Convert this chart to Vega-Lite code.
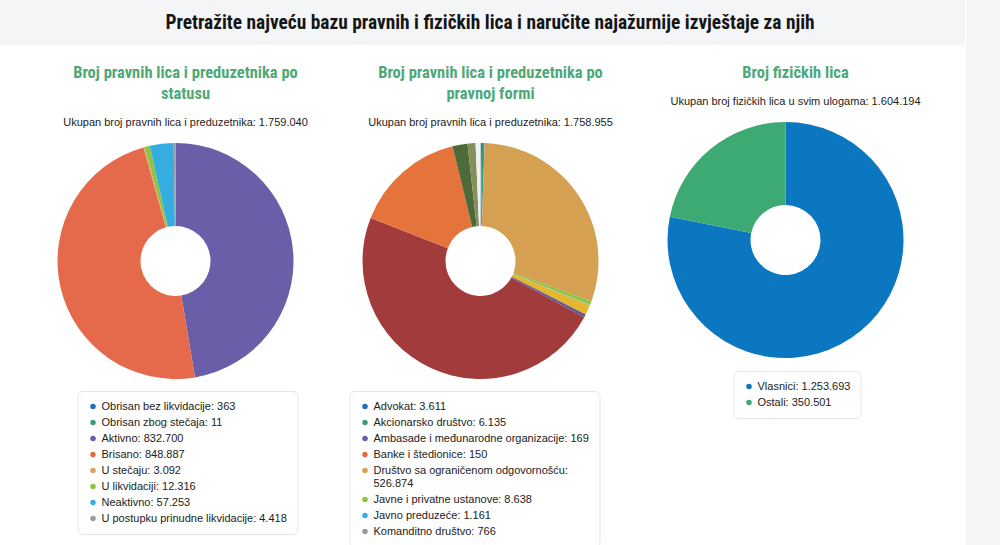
{
  "$schema": "https://vega.github.io/schema/vega-lite/v6.json",
  "background": "white",
  "padding": 0,
  "spacing": 0,
  "align": "none",
  "config": {
    "locale": {"number": {"decimal": ",", "thousands": ".", "grouping": [3], "currency": ["", " €"]}},
    "view": {"stroke": null},
    "font": "Liberation Sans",
    "title": {
      "font": "Roboto Condensed, Liberation Sans Narrow, DejaVu Sans Condensed, Roboto",
      "fontSize": 16.5,
      "fontWeight": "bold",
      "color": "#4fa878",
      "lineHeight": 21,
      "anchor": "middle",
      "frame": "group",
      "dx": 10,
      "offset": 15,
      "subtitleFont": "Liberation Sans",
      "subtitleFontSize": 11,
      "subtitleColor": "#222222",
      "subtitlePadding": 15
    },
    "legend": {
      "labelFont": "Liberation Sans",
      "labelFontSize": 11,
      "labelColor": "#222222",
      "labelLimit": 400,
      "symbolType": "circle",
      "symbolSize": 30,
      "symbolStrokeWidth": 0,
      "rowPadding": 4,
      "labelOffset": 3,
      "padding": 10,
      "strokeColor": "#e3e5e8",
      "fillColor": "white",
      "cornerRadius": 5,
      "direction": "vertical"
    }
  },
  "datasets": {
    "status": [
      {"idx": 1, "name": "Obrisan bez likvidacije", "value": 363},
      {"idx": 2, "name": "Obrisan zbog stečaja", "value": 11},
      {"idx": 3, "name": "Aktivno", "value": 832700},
      {"idx": 4, "name": "Brisano", "value": 848887},
      {"idx": 5, "name": "U stečaju", "value": 3092},
      {"idx": 6, "name": "U likvidaciji", "value": 12316},
      {"idx": 7, "name": "Neaktivno", "value": 57253},
      {"idx": 8, "name": "U postupku prinudne likvidacije", "value": 4418}
    ],
    "forma": [
      {"idx": 1, "name": "Advokat", "value": 3611},
      {"idx": 2, "name": "Akcionarsko društvo", "value": 6135},
      {"idx": 3, "name": "Ambasade i međunarodne organizacije", "value": 169},
      {"idx": 4, "name": "Banke i štedionice", "value": 150},
      {"idx": 5, "name": "Društvo sa ograničenom odgovornošću", "value": 526874},
      {"idx": 6, "name": "Javne i privatne ustanove", "value": 8638},
      {"idx": 7, "name": "Javno preduzeće", "value": 1161},
      {"idx": 8, "name": "Komanditno društvo", "value": 766},
      {"idx": 9, "name": "Ogranak stranog društva", "value": 23900},
      {"idx": 10, "name": "Ortačko društvo", "value": 7300},
      {"idx": 11, "name": "Preduzetnik", "value": 844951},
      {"idx": 12, "name": "Udruženje", "value": 268200},
      {"idx": 13, "name": "Zadruga", "value": 36200},
      {"idx": 14, "name": "Fondacija", "value": 19100},
      {"idx": 15, "name": "Ostalo", "value": 11800}
    ],
    "fizicka": [
      {"idx": 1, "name": "Vlasnici", "value": 1253693},
      {"idx": 2, "name": "Ostali", "value": 350501}
    ]
  },
  "resolve": {"scale": {"color": "independent"}, "legend": {"color": "independent"}},
  "hconcat": [
    {
      "vconcat": [
        {
          "width": 965,
          "height": 45,
          "view": {"fill": "#f4f5f7", "stroke": null},
          "data": {"values": [{"t": "Pretražite najveću bazu pravnih i fizičkih lica i naručite najažurnije izvještaje za njih"}]},
          "mark": {"type": "text", "font": "Roboto Condensed, Liberation Sans Narrow, DejaVu Sans Condensed, Roboto", "fontSize": 19.4, "fontWeight": "bold", "color": "#151515", "dx": 7.5},
          "encoding": {"text": {"field": "t"}}
        },
        {
          "hconcat": [
            {
              "width": 22.5, "height": 10,
              "data": {"values": [{}]},
              "mark": {"type": "point", "opacity": 0}
            },
            {
              "width": 305, "height": 236,
              "data": {"name": "status"},
              "transform": [{"calculate": "datum.name + ': ' + format(datum.value, ',d')", "as": "lbl"}],
              "title": {"text": ["Broj pravnih lica i preduzetnika po", "statusu"], "subtitle": "Ukupan broj pravnih lica i preduzetnika: 1.759.040"},
              "mark": {"type": "arc", "innerRadius": 35, "outerRadius": 118},
              "encoding": {
                "theta": {"field": "value", "type": "quantitative", "stack": true},
                "order": {"field": "idx", "type": "quantitative"},
                "color": {
                  "field": "lbl", "type": "nominal",
                  "sort": {"field": "idx", "op": "min"},
                  "scale": {"range": ["#1f6fb3", "#3a9e72", "#6b5ea8", "#e5694b", "#d8a35c", "#8cc43f", "#36ade0", "#9a9a9a"]},
                  "legend": {"orient": "none", "legendX": 54.5, "legendY": 248, "title": null}
                }
              }
            },
            {
              "width": 305, "height": 236,
              "data": {"name": "forma"},
              "transform": [{"calculate": "datum.name + ': ' + format(datum.value, ',d')", "as": "lbl"}],
              "title": {"text": ["Broj pravnih lica i preduzetnika po", "pravnoj formi"], "subtitle": "Ukupan broj pravnih lica i preduzetnika: 1.758.955"},
              "mark": {"type": "arc", "innerRadius": 35, "outerRadius": 118},
              "encoding": {
                "theta": {"field": "value", "type": "quantitative", "stack": true},
                "order": {"field": "idx", "type": "quantitative"},
                "color": {
                  "field": "lbl", "type": "nominal",
                  "sort": {"field": "idx", "op": "min"},
                  "scale": {"range": ["#1f6fb3", "#3a9e72", "#6b5ea8", "#e5694b", "#d6a052", "#8cc43f", "#36ade0", "#9a9a9a", "#e5b72b", "#5c5a9c", "#a23c3c", "#e4743c", "#4e6a3a", "#84905a", "#f0f0f0"]},
                  "legend": {
                    "orient": "none", "legendX": 21.5, "legendY": 248, "title": null,
                    "values": ["Advokat: 3.611", "Akcionarsko društvo: 6.135", "Ambasade i međunarodne organizacije: 169", "Banke i štedionice: 150", "Društvo sa ograničenom odgovornošću: 526.874", "Javne i privatne ustanove: 8.638", "Javno preduzeće: 1.161", "Komanditno društvo: 766"],
                    "labelExpr": "length(datum.label) > 42 ? [substring(datum.label, 0, indexof(datum.label, ':') + 1), substring(datum.label, indexof(datum.label, ':') + 2, length(datum.label))] : datum.label"
                  }
                }
              }
            },
            {
              "width": 305, "height": 194,
              "data": {"name": "fizicka"},
              "transform": [{"calculate": "datum.name + ': ' + format(datum.value, ',d')", "as": "lbl"}],
              "title": {"text": "Broj fizičkih lica", "subtitle": "Ukupan broj fizičkih lica u svim ulogama: 1.604.194"},
              "mark": {"type": "arc", "innerRadius": 35, "outerRadius": 118},
              "encoding": {
                "theta": {"field": "value", "type": "quantitative", "stack": true},
                "order": {"field": "idx", "type": "quantitative"},
                "color": {
                  "field": "lbl", "type": "nominal",
                  "sort": {"field": "idx", "op": "min"},
                  "scale": {"range": ["#0b77c0", "#3da973"]},
                  "legend": {"orient": "none", "legendX": 100.5, "legendY": 228, "title": null}
                }
              }
            },
            {
              "width": 27.5, "height": 10,
              "data": {"values": [{}]},
              "mark": {"type": "point", "opacity": 0}
            }
          ],
          "spacing": 0,
          "align": "none",
          "resolve": {"scale": {"color": "independent"}, "legend": {"color": "independent"}}
        }
      ],
      "spacing": 19,
      "align": "none",
      "resolve": {"scale": {"color": "independent"}, "legend": {"color": "independent"}}
    },
    {
      "width": 35, "height": 545,
      "view": {"fill": "#f4f5f7", "stroke": null},
      "data": {"values": [{}]},
      "mark": {"type": "point", "opacity": 0}
    }
  ]
}
